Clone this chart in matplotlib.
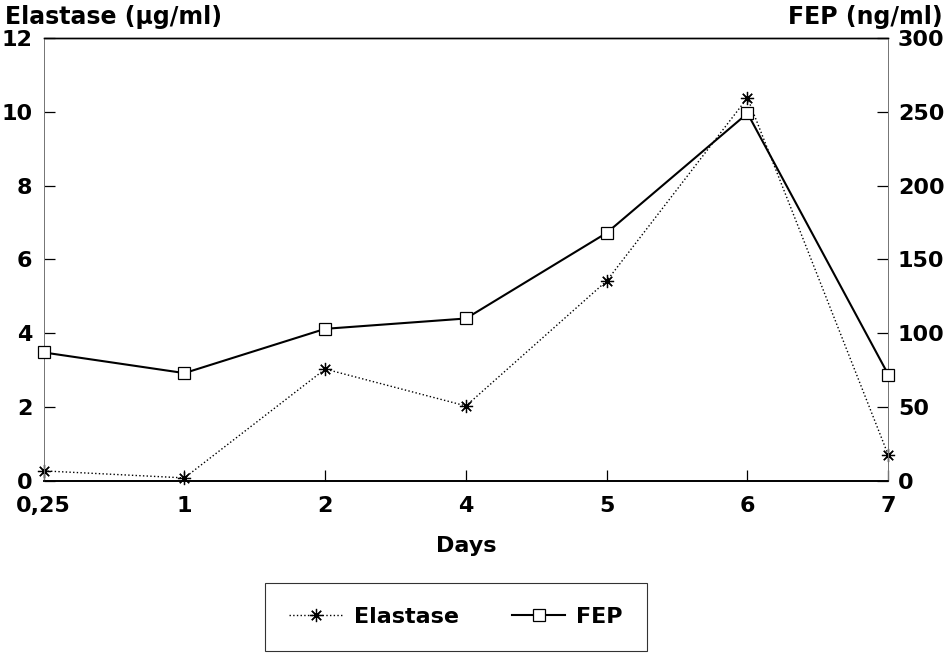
import matplotlib
matplotlib.use("Agg")
import matplotlib.pyplot as plt
import numpy as np

plt.rcParams["font.family"] = ["DejaVu Sans"]

days = ["0,25", "1", "2", "4", "5", "6", "7"]
elastase = [0.27, 0.08, 3.03, 2.03, 5.42, 10.38, 0.70]   # µg/ml
fep = [87, 73, 103, 110, 168, 249, 72]                    # ng/ml

left_ticks = [0, 2, 4, 6, 8, 10, 12]
right_ticks = [0, 50, 100, 150, 200, 250, 300]

fig = plt.figure(figsize=(9.49, 6.56), dpi=100, facecolor="white")
ax = fig.add_axes([0.046, 0.267, 0.890, 0.675])
ax2 = ax.twinx()

x = np.arange(len(days))

l1, = ax.plot(x, elastase, linestyle=":", color="black", linewidth=1.0,
              marker=(8, 2, 0), markersize=9.5, markeredgewidth=0.9,
              label="Elastase", clip_on=False, zorder=3)
l2, = ax2.plot(x, fep, linestyle="-", color="black", linewidth=1.5,
               marker="s", markersize=8.5, markerfacecolor="white",
               markeredgewidth=0.9, label="FEP", clip_on=False, zorder=3)

ax.set_xlim(0, len(days) - 1)
ax.set_ylim(0, 12)
ax2.set_ylim(0, 300)

ax.set_xticks(x)
ax.set_xticklabels(days)
ax.set_yticks(left_ticks)
ax2.set_yticks(right_ticks)

for a in (ax, ax2):
    a.spines["top"].set_linewidth(1.0)
    a.spines["bottom"].set_linewidth(1.2)
    a.spines["left"].set_color("#777777")
    a.spines["left"].set_linewidth(0.7)
    a.spines["right"].set_color("#777777")
    a.spines["right"].set_linewidth(0.7)

ax.tick_params(axis="y", direction="in", length=8, width=0.9, pad=8,
               labelsize=16)
ax.tick_params(axis="x", direction="in", length=8, width=0.9, pad=11,
               labelsize=16)
ax2.tick_params(axis="y", direction="in", length=8, width=0.9, pad=7,
                labelsize=16)
for lab in ax.get_xticklabels() + ax.get_yticklabels() + ax2.get_yticklabels():
    lab.set_fontweight("bold")

fig.text(5 / 949, 1 - 17 / 656, "Elastase (µg/ml)", ha="left", va="center",
         fontsize=17, fontweight="bold")
fig.text(943 / 949, 1 - 17 / 656, "FEP (ng/ml)", ha="right", va="center",
         fontsize=17, fontweight="bold")
fig.text(466 / 949, 1 - 546 / 656, "Days", ha="center", va="center",
         fontsize=16, fontweight="bold")

leg = fig.legend([l1, l2], ["Elastase", "FEP"], loc="center",
                 bbox_to_anchor=(456 / 949, 1 - 617 / 656), ncol=2,
                 fancybox=False, frameon=True, edgecolor="black",
                 prop={"size": 16, "weight": "bold"}, handlelength=2.4,
                 columnspacing=2.4, borderpad=1.1, handletextpad=0.5,
                 borderaxespad=0)
leg.get_frame().set_linewidth(0.8)

fig.savefig("out.png", dpi=100, facecolor="white")
